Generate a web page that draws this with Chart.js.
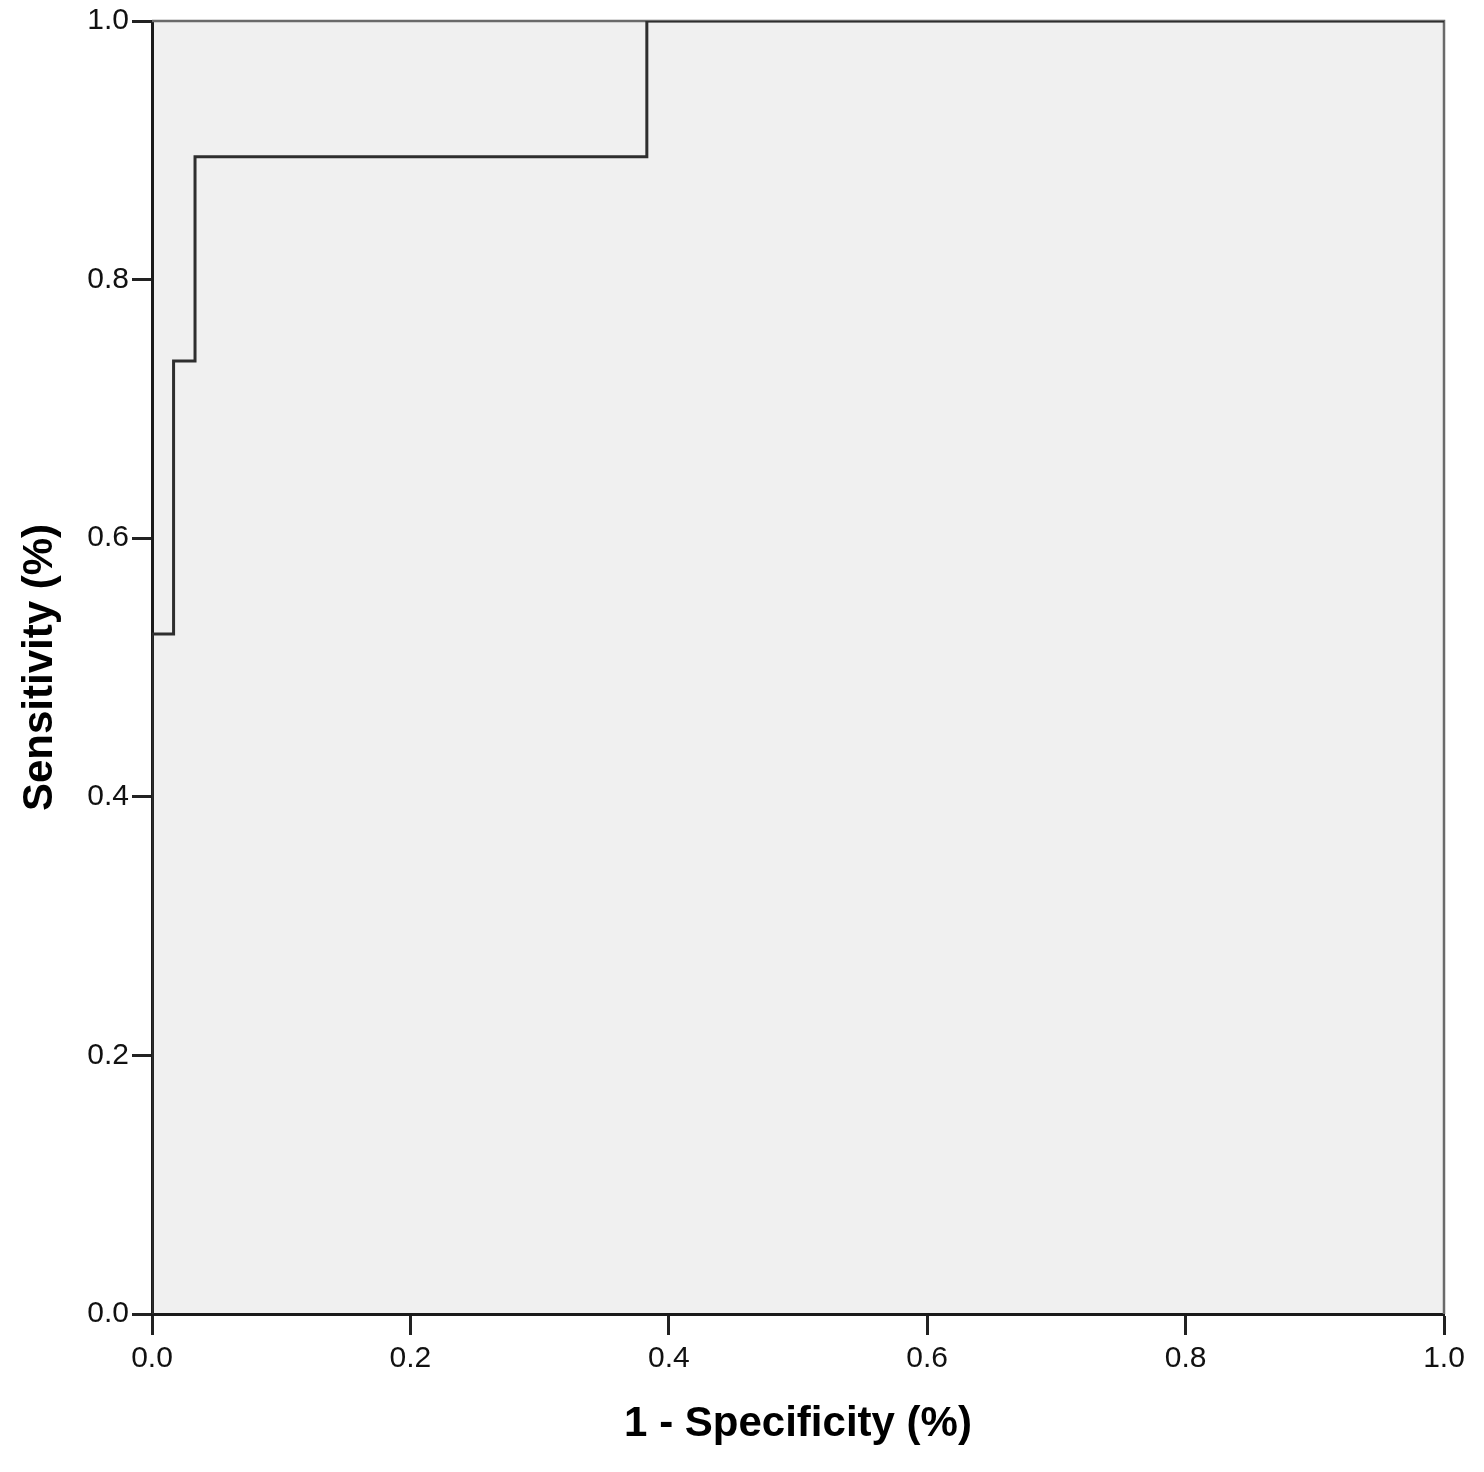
<!DOCTYPE html>
<html>
<head>
<meta charset="utf-8">
<script src="https://cdn.jsdelivr.net/npm/chart.js@4"></script>
<style>
html,body{margin:0;padding:0;background:#fff;}
canvas{display:block;}
</style>
</head>
<body>
<canvas id="c" width="1484" height="1472"></canvas>
<script>
// ROC curve corner points (1 - specificity, sensitivity)
const fpr = [0, 0, 0.0167, 0.0167, 0.0333, 0.0333, 0.383, 0.383, 1.0];
const tpr = [0, 0.526, 0.526, 0.737, 0.737, 0.895, 0.895, 1.0, 1.0];
const xTitle = '1 - Specificity (%)';
const yTitle = 'Sensitivity (%)';

const FONT = '"Liberation Sans", Arial, Helvetica, sans-serif';

const frame = {
  id: 'frame',
  beforeDraw(chart) {
    const {ctx, chartArea: a} = chart;
    ctx.save();
    ctx.fillStyle = '#f0f0f0';
    ctx.fillRect(a.left, a.top, a.right - a.left, a.bottom - a.top);
    ctx.restore();
  },
  beforeDatasetsDraw(chart) {
    const {ctx, chartArea: a} = chart;
    ctx.save();
    ctx.strokeStyle = '#6a6a6a';
    ctx.lineWidth = 2.5;
    ctx.beginPath();
    ctx.moveTo(a.left, a.top);
    ctx.lineTo(a.right, a.top);
    ctx.lineTo(a.right, a.bottom);
    ctx.stroke();
    ctx.restore();
  }
};

const pts = fpr.map((x, i) => ({x: x, y: tpr[i]}));

new Chart(document.getElementById('c'), {
  type: 'scatter',
  data: {
    datasets: [{
      data: pts,
      showLine: true,
      borderColor: '#2e2e2e',
      borderWidth: 3,
      pointRadius: 0,
      fill: false,
      tension: 0
    }]
  },
  options: {
    responsive: false,
    animation: false,
    events: [],
    layout: {padding: {top: 21, right: 40, left: 0, bottom: 0}},
    plugins: {legend: {display: false}, tooltip: {enabled: false}},
    scales: {
      x: {
        type: 'linear', min: 0, max: 1,
        afterFit(s) { s.height = 158; },
        ticks: {stepSize: 0.2, color: '#111', padding: 6,
          font: {family: FONT, size: 30},
          callback: v => v.toFixed(1)},
        grid: {drawOnChartArea: false, tickLength: 21, tickColor: '#222', tickWidth: 3},
        border: {display: true, color: '#1a1a1a', width: 3},
        title: {display: true, text: xTitle, color: '#000',
          font: {family: FONT, size: 42, weight: 'bold'},
          padding: {top: 0, bottom: 22}}
      },
      y: {
        type: 'linear', min: 0, max: 1,
        afterFit(s) { s.width = 152; },
        ticks: {stepSize: 0.2, color: '#111', padding: 3,
          font: {family: FONT, size: 30},
          callback: v => v.toFixed(1)},
        grid: {drawOnChartArea: false, tickLength: 20, tickColor: '#222', tickWidth: 3},
        border: {display: true, color: '#1a1a1a', width: 3},
        title: {display: true, text: yTitle, color: '#000',
          font: {family: FONT, size: 42, weight: 'bold'},
          padding: {top: 15, bottom: 0}}
      }
    }
  },
  plugins: [frame]
});
</script>
</body>
</html>
